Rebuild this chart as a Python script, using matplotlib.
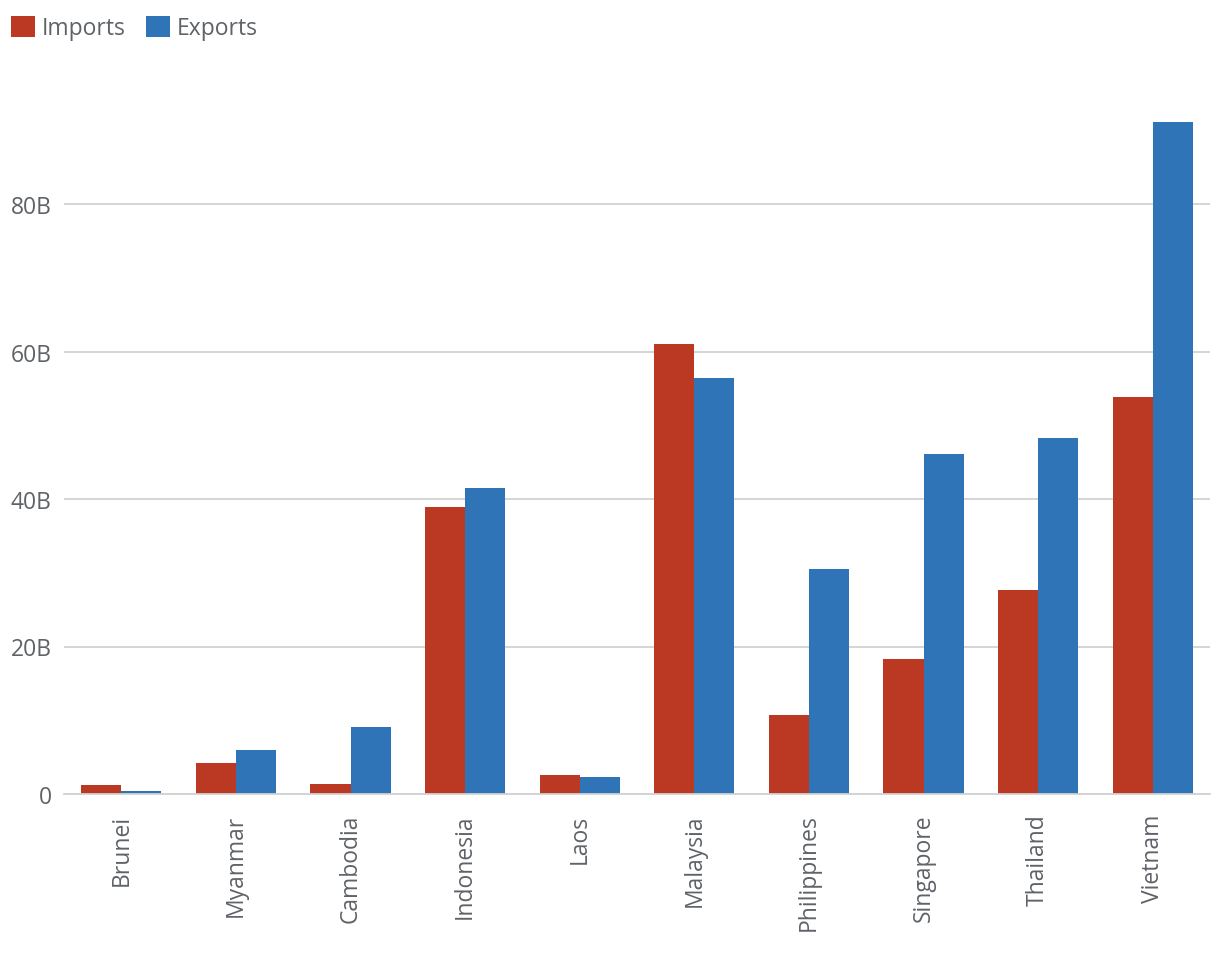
import numpy as np
import matplotlib.pyplot as plt
from matplotlib.patches import Patch

countries = ["Brunei", "Myanmar", "Cambodia", "Indonesia", "Laos",
             "Malaysia", "Philippines", "Singapore", "Thailand", "Vietnam"]
imports = [1.2, 4.2, 1.3, 38.9, 2.6, 61.0, 10.7, 18.3, 27.7, 53.8]
exports = [0.4, 6.0, 9.1, 41.5, 2.3, 56.4, 30.5, 46.1, 48.3, 91.1]

red = "#bb3823"
blue = "#2e74b7"
text_grey = "#5f6368"
grid_grey = "#d2d2d2"

plt.rcParams["font.family"] = ["Open Sans", "DejaVu Sans"]
fs = 16.5

fig = plt.figure(figsize=(12.2, 9.54), dpi=100)
ax = fig.add_axes([64 / 1220, 1 - 795 / 954, (1210 - 64) / 1220, (795 - 57.5) / 954])

x = np.arange(len(countries))
w = 0.35
ax.bar(x - w / 2, imports, width=w, color=red, zorder=3)
ax.bar(x + w / 2, exports, width=w, color=blue, zorder=3)

ax.set_xlim(-0.5, len(countries) - 0.5)
ax.set_ylim(0, 100)
ax.set_yticks([0, 20, 40, 60, 80])
ax.set_yticklabels(["0", "20B", "40B", "60B", "80B"])
ax.set_xticks(x)
ax.set_xticklabels(countries, rotation=90)

ax.grid(axis="y", color=grid_grey, linewidth=1.3, zorder=0)
for s in ["top", "right", "left"]:
    ax.spines[s].set_visible(False)
ax.spines["bottom"].set_color(grid_grey)
ax.spines["bottom"].set_linewidth(1.3)
ax.spines["bottom"].set_zorder(4)

ax.tick_params(axis="y", length=0, pad=9, labelsize=fs, labelcolor=text_grey)
ax.tick_params(axis="x", length=0, pad=14, labelsize=fs, labelcolor=text_grey)

handles = [Patch(facecolor=red, label="Imports"), Patch(facecolor=blue, label="Exports")]
fig.legend(handles=handles, loc="upper left", bbox_to_anchor=(6 / 1220, 1 - 12 / 954),
           ncol=2, frameon=False, fontsize=fs, labelcolor=text_grey,
           handlelength=1.05, handleheight=1.05, handletextpad=0.3,
           columnspacing=0.9, borderaxespad=0, borderpad=0.2)

fig.savefig("out.png", dpi=100)
